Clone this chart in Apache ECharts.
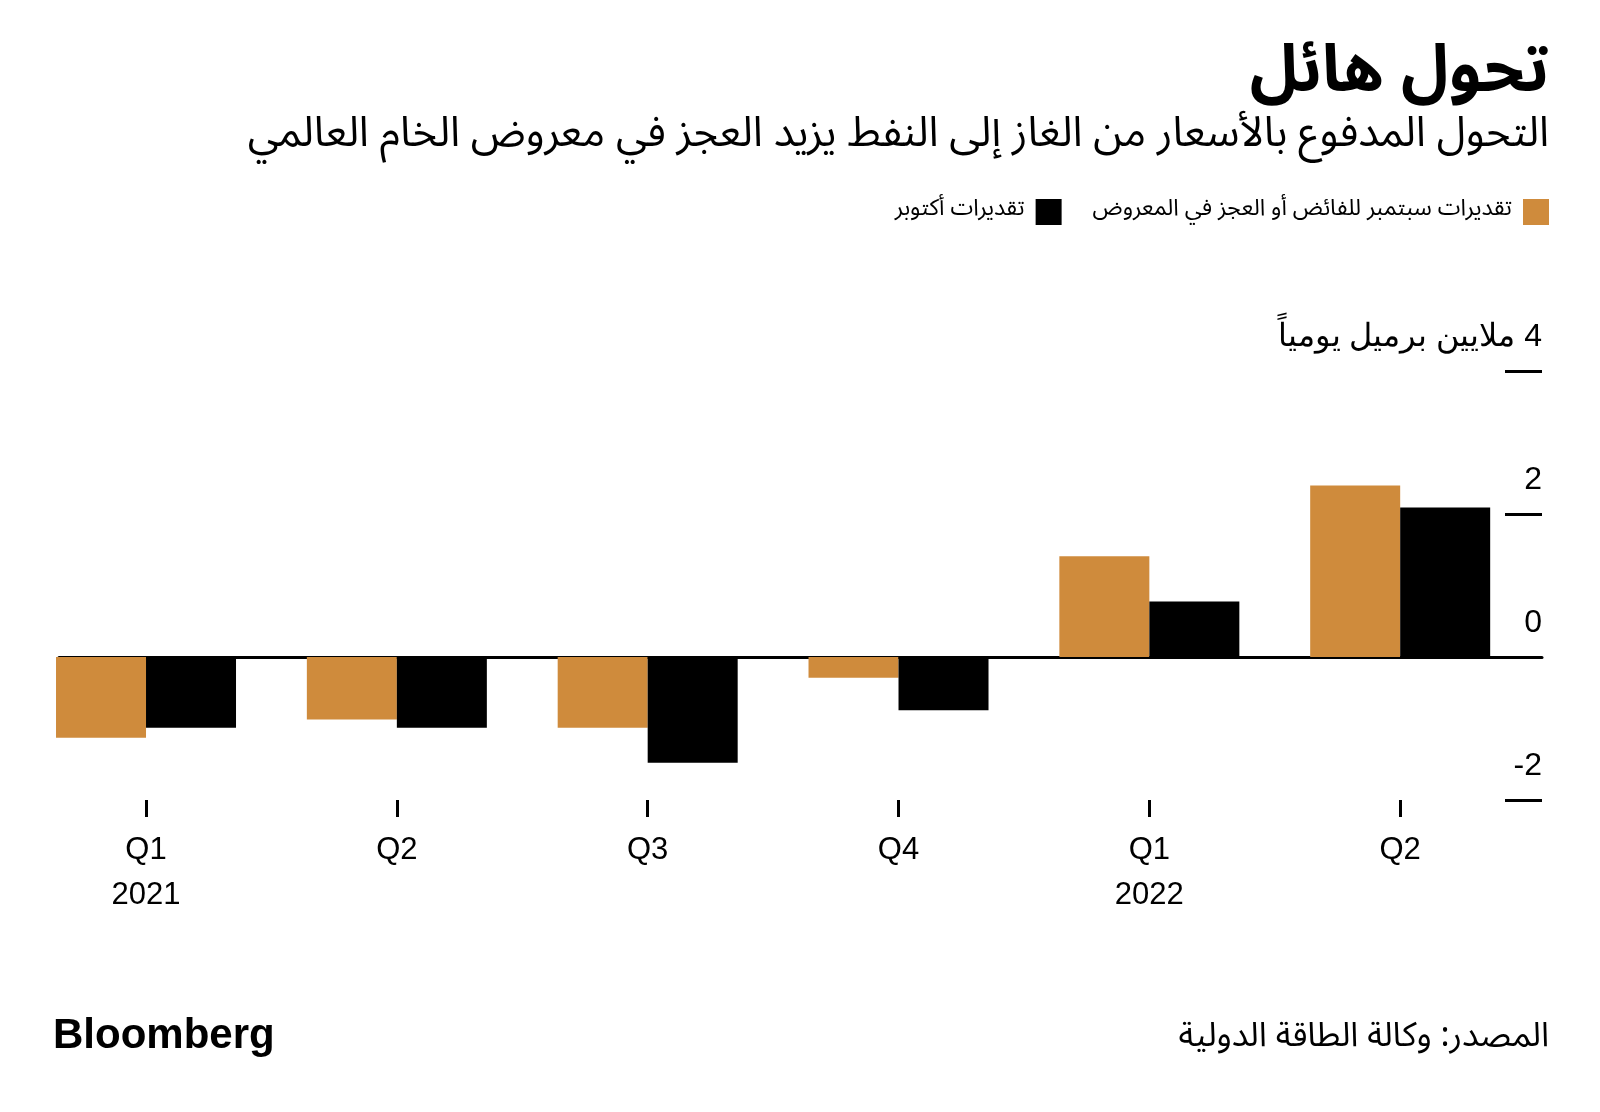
<!DOCTYPE html>
<html>
<head>
<meta charset="utf-8">
<script src="https://cdn.jsdelivr.net/npm/echarts@6/dist/echarts.min.js"></script>
<style>
html,body{margin:0;padding:0;background:#fff;}
#chart{width:1600px;height:1112px;}
</style>
</head>
<body>
<div id="chart"></div>
<script>
const quarters = ['Q1\n2021', 'Q2', 'Q3', 'Q4', 'Q1\n2022', 'Q2'];
const septemberEstimates = [-1.13, -0.875, -0.99, -0.29, 1.41, 2.40];
const octoberEstimates = [-0.99, -0.99, -1.48, -0.745, 0.775, 2.09];
const yTicks = {min: -2, max: 4, interval: 2};
const seriesNames = ['تقديرات سبتمبر للفائض أو العجز في المعروض', 'تقديرات أكتوبر'];
const unitLabel = 'ملايين برميل يومياً';
const titleText = 'تحول هائل';
const subtitleText = 'التحول المدفوع بالأسعار من الغاز إلى النفط يزيد العجز في معروض الخام العالمي';
const sourceText = 'المصدر: وكالة الطاقة الدولية';

const arFont = "'Noto Sans Arabic', 'Noto Naskh Arabic', 'DejaVu Sans', sans-serif";
const latFont = "'Liberation Sans', Arial, sans-serif";
const ORANGE = '#CF8B3C';

const chart = echarts.init(document.getElementById('chart'), null, {renderer: 'canvas'});
chart.setOption({
  backgroundColor: '#ffffff',
  animation: false,
  title: [
    {text: titleText, right: 46, top: 44,
     textStyle: {fontFamily: arFont, fontSize: 65, fontWeight: 'bold', color: '#000'}},
    {text: subtitleText, right: 46, top: 114,
     textStyle: {fontFamily: arFont, fontSize: 42, fontWeight: 'normal', color: '#000'}},
    {text: sourceText, right: 46, top: 1019,
     textStyle: {fontFamily: arFont, fontSize: 34, fontWeight: 'normal', color: '#000'}},
    {text: 'Bloomberg', left: 48, top: 1010,
     textStyle: {fontFamily: latFont, fontSize: 42, fontWeight: 'bold', color: '#000', letterSpacing: -1.5}}
  ],
  legend: {
    right: 46, top: 194,
    orient: 'horizontal',
    align: 'right',
    itemWidth: 26, itemHeight: 26, itemGap: 31,
    icon: 'rect',
    data: [seriesNames[1], seriesNames[0]],
    textStyle: {fontFamily: arFont, fontSize: 23, color: '#000', padding: [0, 6, 0, 0]},
    selectedMode: false
  },
  grid: [
    {left: 20.6, right: 74.4, top: 371, bottom: 312, containLabel: false},
    {left: 59, right: 58, top: 371, bottom: 312, containLabel: false}
  ],
  xAxis: [
    {type: 'category', gridIndex: 0, data: quarters, position: 'bottom',
     axisLine: {show: false, onZero: false},
     axisTick: {show: true, alignWithLabel: true, length: 17, lineStyle: {color: '#000', width: 3}},
     axisLabel: {fontFamily: latFont, fontSize: 31, color: '#000', lineHeight: 45, margin: 28, interval: 0},
     splitLine: {show: false}},
    {type: 'value', gridIndex: 1, min: 0, max: 1,
     axisLine: {show: true, onZero: true, lineStyle: {color: '#000', width: 3}},
     axisTick: {show: false}, axisLabel: {show: false}, splitLine: {show: false}}
  ],
  yAxis: [
    {type: 'value', gridIndex: 0, min: yTicks.min, max: yTicks.max, interval: yTicks.interval, show: false},
    {type: 'value', gridIndex: 1, min: yTicks.min, max: yTicks.max, interval: yTicks.interval,
     position: 'right',
     axisLine: {show: false, onZero: false},
     axisTick: {show: true, inside: true, length: 37, lineStyle: {color: '#000', width: 3}},
     splitLine: {show: false},
     axisLabel: {
       inside: true, margin: 0, align: 'right', verticalAlign: 'bottom',
       padding: [0, 0, 18, 0],
       fontFamily: latFont, fontSize: 32, color: '#000',
       formatter: function (v) {
         if (v === yTicks.max) return '\u2067' + v + ' ' + unitLabel + '\u2069';
         return String(v);
       }
     }}
  ],
  series: [
    {name: seriesNames[0], type: 'bar', xAxisIndex: 0, yAxisIndex: 0, data: septemberEstimates,
     barWidth: 90, barGap: '0%', itemStyle: {color: ORANGE}, z: 2},
    {name: seriesNames[1], type: 'bar', xAxisIndex: 0, yAxisIndex: 0, data: octoberEstimates,
     barWidth: 90, barGap: '0%', itemStyle: {color: '#000'}, z: 2}
  ]
});
</script>
</body>
</html>
